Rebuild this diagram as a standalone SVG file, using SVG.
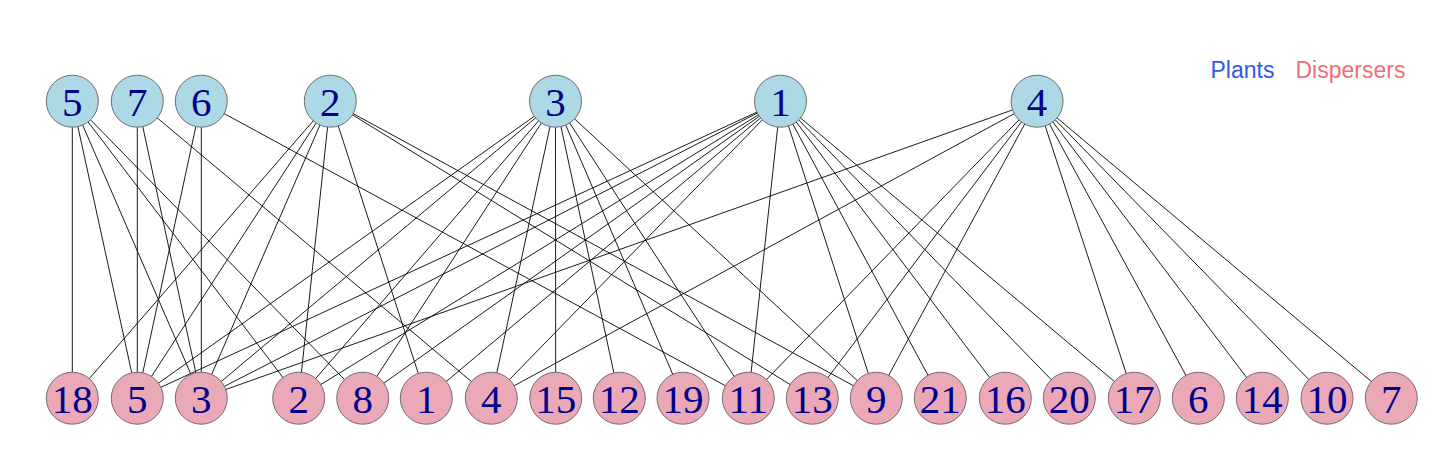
<svg xmlns="http://www.w3.org/2000/svg" width="1445" height="462" viewBox="0 0 1445 462">
<style>
.e{stroke:#000;stroke-width:0.9;fill:none}
.p circle{fill:#ADD8E6;stroke:#6E6E6E;stroke-width:1}
.d circle{fill:#EBA8B6;stroke:#6E6E6E;stroke-width:1}
.n text{font-family:"Liberation Serif","Times New Roman",serif;font-size:41px;fill:#00008B;text-anchor:middle}
.lg{font-family:"Liberation Sans",Arial,sans-serif;font-size:23px}
</style>
<rect width="1445" height="462" fill="#fff"/>
<g id="edges">
<line class="e" x1="72.3" y1="101.2" x2="72.3" y2="398.2"/>
<line class="e" x1="72.3" y1="101.2" x2="137.3" y2="398.2"/>
<line class="e" x1="72.3" y1="101.2" x2="201.3" y2="398.2"/>
<line class="e" x1="72.3" y1="101.2" x2="298.7" y2="398.2"/>
<line class="e" x1="72.3" y1="101.2" x2="362.7" y2="398.2"/>
<line class="e" x1="137.3" y1="101.2" x2="137.3" y2="398.2"/>
<line class="e" x1="137.3" y1="101.2" x2="201.3" y2="398.2"/>
<line class="e" x1="137.3" y1="101.2" x2="491.3" y2="398.2"/>
<line class="e" x1="201.3" y1="101.2" x2="201.3" y2="398.2"/>
<line class="e" x1="201.3" y1="101.2" x2="137.3" y2="398.2"/>
<line class="e" x1="201.3" y1="101.2" x2="748.3" y2="398.2"/>
<line class="e" x1="330.3" y1="101.2" x2="72.3" y2="398.2"/>
<line class="e" x1="330.3" y1="101.2" x2="137.3" y2="398.2"/>
<line class="e" x1="330.3" y1="101.2" x2="201.3" y2="398.2"/>
<line class="e" x1="330.3" y1="101.2" x2="298.7" y2="398.2"/>
<line class="e" x1="330.3" y1="101.2" x2="426.3" y2="398.2"/>
<line class="e" x1="330.3" y1="101.2" x2="812.3" y2="398.2"/>
<line class="e" x1="330.3" y1="101.2" x2="876.3" y2="398.2"/>
<line class="e" x1="555.5" y1="101.2" x2="137.3" y2="398.2"/>
<line class="e" x1="555.5" y1="101.2" x2="201.3" y2="398.2"/>
<line class="e" x1="555.5" y1="101.2" x2="298.7" y2="398.2"/>
<line class="e" x1="555.5" y1="101.2" x2="362.7" y2="398.2"/>
<line class="e" x1="555.5" y1="101.2" x2="491.3" y2="398.2"/>
<line class="e" x1="555.5" y1="101.2" x2="555.7" y2="398.2"/>
<line class="e" x1="555.5" y1="101.2" x2="619.3" y2="398.2"/>
<line class="e" x1="555.5" y1="101.2" x2="683" y2="398.2"/>
<line class="e" x1="555.5" y1="101.2" x2="748.3" y2="398.2"/>
<line class="e" x1="555.5" y1="101.2" x2="876.3" y2="398.2"/>
<line class="e" x1="780.5" y1="101.2" x2="137.3" y2="398.2"/>
<line class="e" x1="780.5" y1="101.2" x2="201.3" y2="398.2"/>
<line class="e" x1="780.5" y1="101.2" x2="298.7" y2="398.2"/>
<line class="e" x1="780.5" y1="101.2" x2="362.7" y2="398.2"/>
<line class="e" x1="780.5" y1="101.2" x2="426.3" y2="398.2"/>
<line class="e" x1="780.5" y1="101.2" x2="491.3" y2="398.2"/>
<line class="e" x1="780.5" y1="101.2" x2="748.3" y2="398.2"/>
<line class="e" x1="780.5" y1="101.2" x2="876.3" y2="398.2"/>
<line class="e" x1="780.5" y1="101.2" x2="940.3" y2="398.2"/>
<line class="e" x1="780.5" y1="101.2" x2="1005.3" y2="398.2"/>
<line class="e" x1="780.5" y1="101.2" x2="1069.3" y2="398.2"/>
<line class="e" x1="780.5" y1="101.2" x2="1134.3" y2="398.2"/>
<line class="e" x1="1037.1" y1="101.2" x2="201.3" y2="398.2"/>
<line class="e" x1="1037.1" y1="101.2" x2="491.3" y2="398.2"/>
<line class="e" x1="1037.1" y1="101.2" x2="748.3" y2="398.2"/>
<line class="e" x1="1037.1" y1="101.2" x2="812.3" y2="398.2"/>
<line class="e" x1="1037.1" y1="101.2" x2="876.3" y2="398.2"/>
<line class="e" x1="1037.1" y1="101.2" x2="1134.3" y2="398.2"/>
<line class="e" x1="1037.1" y1="101.2" x2="1198.3" y2="398.2"/>
<line class="e" x1="1037.1" y1="101.2" x2="1262.3" y2="398.2"/>
<line class="e" x1="1037.1" y1="101.2" x2="1327" y2="398.2"/>
<line class="e" x1="1037.1" y1="101.2" x2="1391.3" y2="398.2"/>
</g>
<g id="plant-5" class="n p"><circle cx="72.3" cy="101.2" r="26"/><text x="72.3" y="115.7">5</text></g>
<g id="plant-7" class="n p"><circle cx="137.3" cy="101.2" r="26"/><text x="137.3" y="115.7">7</text></g>
<g id="plant-6" class="n p"><circle cx="201.3" cy="101.2" r="26"/><text x="201.3" y="115.7">6</text></g>
<g id="plant-2" class="n p"><circle cx="330.3" cy="101.2" r="26"/><text x="330.3" y="115.7">2</text></g>
<g id="plant-3" class="n p"><circle cx="555.5" cy="101.2" r="26"/><text x="555.5" y="115.7">3</text></g>
<g id="plant-1" class="n p"><circle cx="780.5" cy="101.2" r="26"/><text x="780.5" y="115.7">1</text></g>
<g id="plant-4" class="n p"><circle cx="1037.1" cy="101.2" r="26"/><text x="1037.1" y="115.7">4</text></g>
<g id="disp-18" class="n d"><circle cx="72.3" cy="398.2" r="26"/><text x="72.3" y="412.7">18</text></g>
<g id="disp-5" class="n d"><circle cx="137.3" cy="398.2" r="26"/><text x="137.3" y="412.7">5</text></g>
<g id="disp-3" class="n d"><circle cx="201.3" cy="398.2" r="26"/><text x="201.3" y="412.7">3</text></g>
<g id="disp-2" class="n d"><circle cx="298.7" cy="398.2" r="26"/><text x="298.7" y="412.7">2</text></g>
<g id="disp-8" class="n d"><circle cx="362.7" cy="398.2" r="26"/><text x="362.7" y="412.7">8</text></g>
<g id="disp-1" class="n d"><circle cx="426.3" cy="398.2" r="26"/><text x="426.3" y="412.7">1</text></g>
<g id="disp-4" class="n d"><circle cx="491.3" cy="398.2" r="26"/><text x="491.3" y="412.7">4</text></g>
<g id="disp-15" class="n d"><circle cx="555.7" cy="398.2" r="26"/><text x="555.7" y="412.7">15</text></g>
<g id="disp-12" class="n d"><circle cx="619.3" cy="398.2" r="26"/><text x="619.3" y="412.7">12</text></g>
<g id="disp-19" class="n d"><circle cx="683" cy="398.2" r="26"/><text x="683" y="412.7">19</text></g>
<g id="disp-11" class="n d"><circle cx="748.3" cy="398.2" r="26"/><text x="748.3" y="412.7">11</text></g>
<g id="disp-13" class="n d"><circle cx="812.3" cy="398.2" r="26"/><text x="812.3" y="412.7">13</text></g>
<g id="disp-9" class="n d"><circle cx="876.3" cy="398.2" r="26"/><text x="876.3" y="412.7">9</text></g>
<g id="disp-21" class="n d"><circle cx="940.3" cy="398.2" r="26"/><text x="940.3" y="412.7">21</text></g>
<g id="disp-16" class="n d"><circle cx="1005.3" cy="398.2" r="26"/><text x="1005.3" y="412.7">16</text></g>
<g id="disp-20" class="n d"><circle cx="1069.3" cy="398.2" r="26"/><text x="1069.3" y="412.7">20</text></g>
<g id="disp-17" class="n d"><circle cx="1134.3" cy="398.2" r="26"/><text x="1134.3" y="412.7">17</text></g>
<g id="disp-6" class="n d"><circle cx="1198.3" cy="398.2" r="26"/><text x="1198.3" y="412.7">6</text></g>
<g id="disp-14" class="n d"><circle cx="1262.3" cy="398.2" r="26"/><text x="1262.3" y="412.7">14</text></g>
<g id="disp-10" class="n d"><circle cx="1327" cy="398.2" r="26"/><text x="1327" y="412.7">10</text></g>
<g id="disp-7" class="n d"><circle cx="1391.3" cy="398.2" r="26"/><text x="1391.3" y="412.7">7</text></g>
<g id="legend">
<text class="lg" x="1210.5" y="78.3" fill="#2E5BE0">Plants</text>
<text class="lg" x="1295.5" y="78.3" fill="#F06E78">Dispersers</text>
</g>
</svg>
